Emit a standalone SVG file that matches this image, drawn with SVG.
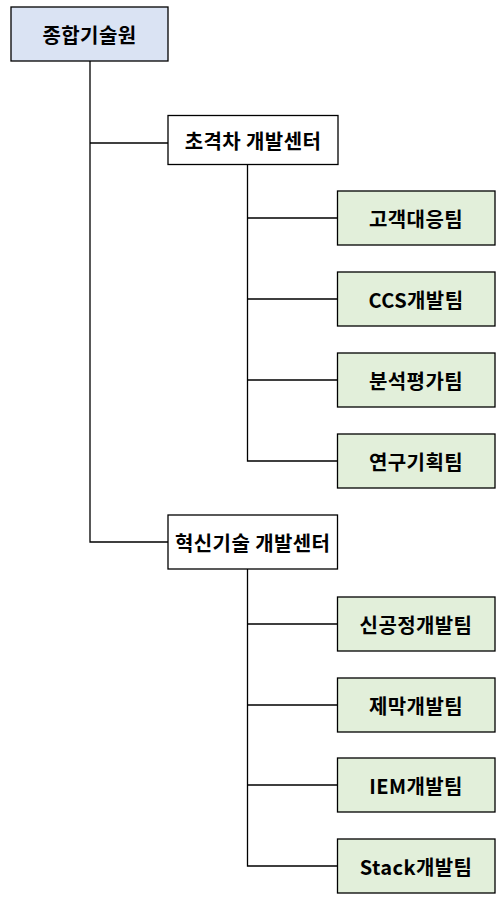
<svg xmlns="http://www.w3.org/2000/svg" width="500" height="901" viewBox="0 0 500 901">
<style>
.node rect{stroke:#000;stroke-width:1.3}
.root{fill:#dae3f3}
.center{fill:#fff}
.team{fill:#e2efda}
text{font-family:"Malgun Gothic","Noto Sans CJK KR","Noto Sans",sans-serif;font-weight:bold;font-size:20px;letter-spacing:0.4px;text-anchor:middle;dominant-baseline:central;fill:#000}
#connectors path{fill:none;stroke:#000;stroke-width:1.3}
</style>
<rect x="0" y="0" width="500" height="901" fill="#fff"/>
<g id="connectors">
<path d="M90 61 V542 H168"/>
<path d="M90 143 H168"/>
<path d="M247.5 164 V461 H337.5"/>
<path d="M247.5 218 H337.5 M247.5 299 H337.5 M247.5 380 H337.5"/>
<path d="M247.5 569 V866 H337.5"/>
<path d="M247.5 624 H337.5 M247.5 705 H337.5 M247.5 785 H337.5"/>
</g>
<g id="n-root" class="node"><rect class="root" x="11" y="7" width="157" height="54"/><text x="89.5" y="34">종합기술원</text></g>
<g id="n-c1" class="node"><rect class="center" x="168" y="115.5" width="170" height="49"/><text x="253" y="140">초격차 개발센터</text></g>
<g id="n-c2" class="node"><rect class="center" x="168" y="515" width="169.5" height="54"/><text x="252.7" y="542">혁신기술 개발센터</text></g>
<g id="n-t1" class="node"><rect class="team" x="337.5" y="191" width="157.5" height="54"/><text x="416" y="218">고객대응팀</text></g>
<g id="n-t2" class="node"><rect class="team" x="337.5" y="272" width="157.5" height="54"/><text x="416" y="299">CCS개발팀</text></g>
<g id="n-t3" class="node"><rect class="team" x="337.5" y="353" width="157.5" height="54"/><text x="416" y="380">분석평가팀</text></g>
<g id="n-t4" class="node"><rect class="team" x="337.5" y="434" width="157.5" height="54"/><text x="416" y="461">연구기획팀</text></g>
<g id="n-t5" class="node"><rect class="team" x="337.5" y="597" width="157.5" height="54"/><text x="416" y="624">신공정개발팀</text></g>
<g id="n-t6" class="node"><rect class="team" x="337.5" y="678" width="157.5" height="54"/><text x="416" y="705">제막개발팀</text></g>
<g id="n-t7" class="node"><rect class="team" x="337.5" y="758" width="157.5" height="54"/><text x="416" y="785">IEM개발팀</text></g>
<g id="n-t8" class="node"><rect class="team" x="337.5" y="839" width="157.5" height="54"/><text x="416" y="866">Stack개발팀</text></g>
</svg>
